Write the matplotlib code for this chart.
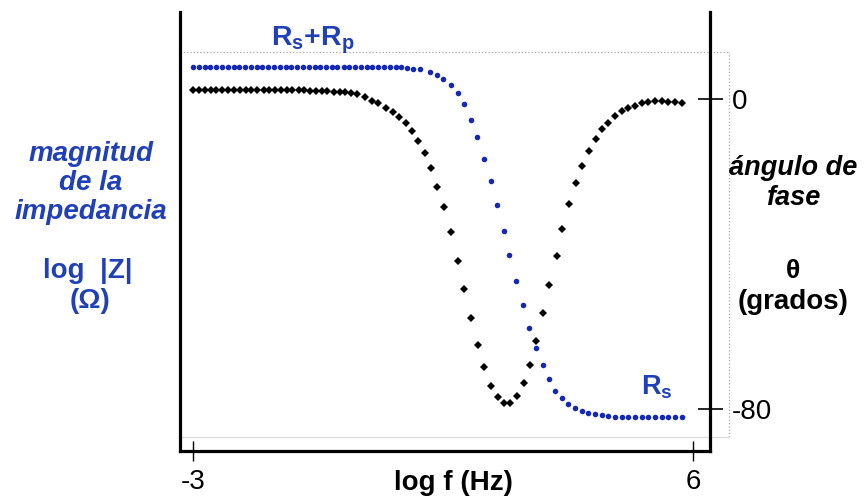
import matplotlib
matplotlib.use("Agg")
import matplotlib.pyplot as plt

plt.rcParams['font.family'] = ['Liberation Sans', 'DejaVu Sans']
plt.rcParams['mathtext.fontset'] = 'custom'
plt.rcParams['mathtext.rm'] = 'Liberation Sans'
plt.rcParams['mathtext.bf'] = 'Liberation Sans:bold'
plt.rcParams['mathtext.it'] = 'Liberation Sans:italic'

# angulo de fase (grados) vs log f
logf_fase = [-3.00, -2.89, -2.79, -2.68, -2.58, -2.47, -2.37, -2.26, -2.16, -2.05,
             -1.95, -1.84, -1.73, -1.63, -1.52, -1.42, -1.31, -1.21, -1.10, -1.00,
             -0.89, -0.79, -0.68, -0.58, -0.47, -0.36, -0.26, -0.15, -0.05,
             0.10, 0.22, 0.33, 0.47, 0.60, 0.71, 0.83, 0.94, 1.05, 1.18,
             1.28, 1.39, 1.52, 1.64, 1.77, 1.88, 2.00, 2.13, 2.24, 2.36,
             2.49, 2.60, 2.71, 2.83, 2.96, 3.07, 3.17, 3.30, 3.41, 3.55,
             3.64, 3.77, 3.89, 4.00, 4.13, 4.25, 4.36, 4.47, 4.60, 4.72,
             4.83, 4.96, 5.08, 5.19, 5.32, 5.44, 5.55, 5.68, 5.80]
fase = [2.2, 2.2, 2.2, 2.2, 2.2, 2.2, 2.2, 2.2, 2.2, 2.2,
        2.2, 2.2, 2.2, 2.2, 2.2, 2.2, 2.2, 2.2, 2.2, 2.2,
        2.1, 2.1, 2.1, 2.1, 1.9, 1.9, 1.8, 1.5, 1.2,
        0.5, -0.5, -1.0, -2.3, -3.4, -4.7, -6.2, -8.3, -10.8, -13.9,
        -17.8, -22.7, -27.9, -34.3, -41.8, -49.0, -56.5, -63.5, -69.2, -74.1,
        -76.9, -78.5, -78.5, -76.7, -73.3, -68.7, -62.5, -55.2, -48.0, -40.5,
        -33.6, -27.1, -21.7, -17.3, -13.4, -10.3, -7.7, -6.2, -4.4, -3.1,
        -2.3, -1.8, -1.0, -0.8, -0.5, -0.5, -0.8, -0.8, -1.0]

# magnitud de la impedancia, log|Z| (Rs = 10 ohm, Rs+Rp = 1000 ohm)
logf_mag = [-3.00, -2.90, -2.79, -2.69, -2.58, -2.48, -2.37, -2.27, -2.17, -2.06,
            -1.96, -1.85, -1.75, -1.65, -1.54, -1.44, -1.33, -1.23, -1.12, -1.02,
            -0.92, -0.81, -0.71, -0.60, -0.50, -0.40, -0.29, -0.19, -0.08, 0.02,
            0.13, 0.23, 0.33, 0.44, 0.54, 0.65, 0.75, 0.85, 0.96,
            1.09, 1.27, 1.39, 1.50, 1.64, 1.77, 1.88, 2.00, 2.11, 2.24,
            2.36, 2.47, 2.60, 2.69, 2.81, 2.94, 3.05, 3.17, 3.30, 3.41,
            3.52, 3.64, 3.75, 3.88, 4.00, 4.11, 4.24, 4.36, 4.47, 4.60,
            4.72, 4.83, 4.96, 5.08, 5.19, 5.32, 5.44, 5.55, 5.68, 5.80]
log_mag = [3.00, 3.00, 3.00, 3.00, 3.00, 3.00, 3.00, 3.00, 3.00, 3.00,
           3.00, 3.00, 3.00, 3.00, 3.00, 3.00, 3.00, 3.00, 3.00, 3.00,
           3.00, 3.00, 3.00, 3.00, 3.00, 3.00, 3.00, 3.00, 3.00, 3.00,
           3.00, 3.00, 3.00, 3.00, 3.00, 3.00, 2.997, 2.995, 2.99,
           2.989, 2.971, 2.954, 2.931, 2.897, 2.851, 2.789, 2.697, 2.600, 2.474,
           2.349, 2.211, 2.063, 1.926, 1.777, 1.640, 1.509, 1.394, 1.297, 1.217,
           1.149, 1.109, 1.074, 1.051, 1.034, 1.023, 1.017, 1.011, 1.006, 1.003,
           1.003, 1.003, 1.003, 1.003, 1.000, 1.000, 1.000, 1.000, 1.000, 1.000]

azul = '#1428b4'
azul_txt = '#2040b8'

fig = plt.figure(figsize=(8.67, 4.98), dpi=100)
ax = fig.add_axes([0.2076, 0.0944, 0.6113, 0.8815])
ax2 = ax.twinx()

ax.plot(logf_fase, fase, 'D', color='black', markersize=3.6, markeredgewidth=0)
ax2.plot(logf_mag, log_mag, 'o', color=azul, markersize=4.0, markeredgewidth=0)

ax.set_xlim(-3.234, 6.306)
ax.set_ylim(-90.84, 22.45)
ax2.set_ylim(0.806, 3.314)

# ejes
for s in ax2.spines.values():
    s.set_visible(False)
ax2.set_yticks([])
ax.spines['top'].set_visible(False)
for s in ['left', 'right', 'bottom']:
    ax.spines[s].set_linewidth(2.3)

ax.set_xticks([-3, 6])
ax.set_xticklabels(['-3', '6'])
ax.tick_params(axis='x', direction='inout', length=14, width=1.0, labelsize=20, pad=6)
ax.yaxis.tick_right()
ax.set_yticks([0, -80])
ax.set_yticklabels(['0', '-80'])
ax.tick_params(axis='y', direction='inout', length=18, width=1.2, labelsize=20, pad=7)

# recuadro gris punteado
ax.plot([0, 1.0358], [0.9089, 0.9089], transform=ax.transAxes, clip_on=False,
        ls=':', color='#a8a8a8', lw=0.9)
ax.plot([1.0358, 1.0358], [0.0319, 0.9089], transform=ax.transAxes, clip_on=False,
        ls=':', color='#a8a8a8', lw=0.9)
ax.plot([0, 1.0358], [0.0319, 0.0319], transform=ax.transAxes, clip_on=False,
        ls='-', color='#dcdcdc', lw=0.9)

def px(x, y):
    return x / 867, 1 - y / 498

# anotaciones de la curva
fig.text(*px(313, 40), r'$\mathbf{R_s{+}R_p}$', color=azul_txt, fontsize=20.5,
         ha='center', va='center')
fig.text(*px(657, 387), r'$\mathbf{R_s}$', color=azul_txt, fontsize=19.5,
         ha='center', va='center')

# etiquetas de ejes
fig.text(*px(453, 483), 'log f (Hz)', fontsize=20, fontweight='bold',
         ha='center', va='center')

fig.text(*px(91, 183), 'magnitud\nde la\nimpedancia', color=azul_txt, fontsize=20,
         fontweight='bold', fontstyle='italic', ha='center', va='center',
         linespacing=1.15)
fig.text(*px(88, 271), 'log  |Z|', color=azul_txt, fontsize=20, fontweight='bold',
         ha='center', va='center')
fig.text(*px(90, 301), '(Ω)', color=azul_txt, fontsize=20, fontweight='bold',
         ha='center', va='center')

fig.text(*px(793, 183), 'ángulo de\nfase', color='black', fontsize=19.5,
         fontweight='bold', fontstyle='italic', ha='center', va='center',
         linespacing=1.2)
fig.text(*px(793, 271), 'θ', color='black', fontsize=19, fontweight='bold',
         ha='center', va='center')
fig.text(*px(793, 302), '(grados)', color='black', fontsize=20, fontweight='bold',
         ha='center', va='center')

fig.savefig('out.png', dpi=100)
